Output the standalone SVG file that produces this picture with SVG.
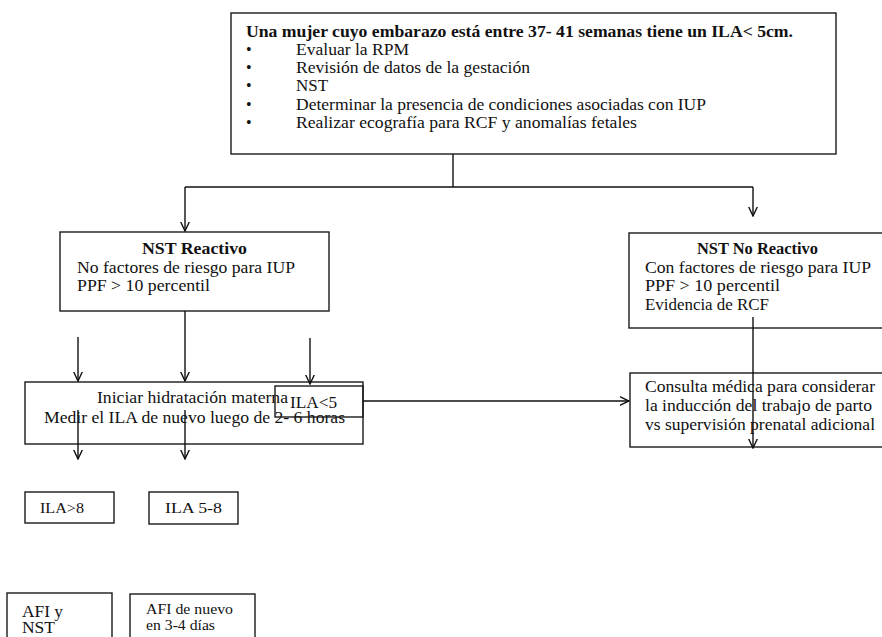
<svg xmlns="http://www.w3.org/2000/svg" width="882" height="637" viewBox="0 0 882 637">
<defs>
<style>
.box{fill:#fff;stroke:#1a1a1a;stroke-width:1.4}
.t{font-family:"Liberation Serif","Times New Roman",serif;font-size:16px;fill:#111}
.b{font-weight:bold}
.s{font-size:15px}
.c{stroke:#111;stroke-width:1.4;fill:none}
</style>
<marker id="ah" viewBox="0 0 10 10" refX="9.5" refY="5" markerWidth="10" markerHeight="10" markerUnits="userSpaceOnUse" orient="auto">
<path d="M0,0.5 L9.5,5 L0,9.5" fill="none" stroke="#111" stroke-width="1.4"/>
</marker>
</defs>
<rect width="882" height="637" fill="#fff"/>

<g id="top">
<rect class="box" x="231" y="13" width="605" height="141"/>
<text class="t b" x="246" y="37" font-size="15" textLength="547" lengthAdjust="spacingAndGlyphs">Una mujer cuyo embarazo está entre 37- 41 semanas tiene un ILA&lt; 5cm.</text>
<text class="t" x="246" y="55">•</text>
<text class="t" x="296" y="55" textLength="113" lengthAdjust="spacingAndGlyphs">Evaluar la RPM</text>
<text class="t" x="246" y="73">•</text>
<text class="t" x="296" y="73" textLength="234" lengthAdjust="spacingAndGlyphs">Revisión de datos de la gestación</text>
<text class="t" x="246" y="91">•</text>
<text class="t" x="296" y="91" textLength="32" lengthAdjust="spacingAndGlyphs">NST</text>
<text class="t" x="246" y="110">•</text>
<text class="t" x="296" y="110" textLength="410" lengthAdjust="spacingAndGlyphs">Determinar la presencia de condiciones asociadas con IUP</text>
<text class="t" x="246" y="128">•</text>
<text class="t" x="296" y="128" textLength="341" lengthAdjust="spacingAndGlyphs">Realizar ecografía para RCF y anomalías fetales</text>
</g>

<g id="nst-reactivo">
<rect class="box" x="60" y="232" width="269" height="79"/>
<text class="t b" x="142" y="254" textLength="105" lengthAdjust="spacingAndGlyphs">NST Reactivo</text>
<text class="t" x="77" y="273" textLength="218" lengthAdjust="spacingAndGlyphs">No factores de riesgo para IUP</text>
<text class="t" x="77" y="291" textLength="133" lengthAdjust="spacingAndGlyphs">PPF &gt; 10 percentil</text>
</g>

<g id="nst-no-reactivo">
<rect class="box" x="629" y="233" width="262" height="95"/>
<text class="t b" x="697" y="254" textLength="121" lengthAdjust="spacingAndGlyphs">NST No Reactivo</text>
<text class="t" x="645" y="273" textLength="226" lengthAdjust="spacingAndGlyphs">Con factores de riesgo para IUP</text>
<text class="t" x="645" y="291" textLength="135" lengthAdjust="spacingAndGlyphs">PPF &gt; 10 percentil</text>
<text class="t" x="645" y="310" textLength="124" lengthAdjust="spacingAndGlyphs">Evidencia de RCF</text>
</g>

<g id="hidratacion">
<rect class="box" x="25" y="382" width="338" height="62"/>
<text class="t" x="97" y="403" textLength="191" lengthAdjust="spacingAndGlyphs">Iniciar hidratación materna</text>
<text class="t" x="44" y="423" textLength="301" lengthAdjust="spacingAndGlyphs">Medir el ILA de nuevo luego de 2- 6 horas</text>
</g>

<g id="ila-menor-5">
<rect x="275" y="386" width="88" height="31" fill="none" stroke="#1a1a1a" stroke-width="1.4"/>
<text class="t" x="290" y="408" textLength="47" lengthAdjust="spacingAndGlyphs">ILA&lt;5</text>
</g>

<g id="consulta">
<rect class="box" x="630" y="373" width="261" height="74"/>
<text class="t" x="645" y="392" textLength="230" lengthAdjust="spacingAndGlyphs">Consulta médica para considerar</text>
<text class="t" x="645" y="411" textLength="227" lengthAdjust="spacingAndGlyphs">la inducción del trabajo de parto</text>
<text class="t" x="645" y="430" textLength="230" lengthAdjust="spacingAndGlyphs">vs supervisión prenatal adicional</text>
</g>

<g id="ila-mayor-8">
<rect class="box" x="25" y="492" width="89" height="31"/>
<text class="t s" x="40" y="513" textLength="44" lengthAdjust="spacingAndGlyphs">ILA&gt;8</text>
</g>

<g id="ila-5-8">
<rect class="box" x="149" y="492" width="89" height="32"/>
<text class="t s" x="165" y="513" textLength="57" lengthAdjust="spacingAndGlyphs">ILA 5-8</text>
</g>

<g id="afi-nst">
<rect class="box" x="7" y="593" width="105" height="60"/>
<text class="t" x="22" y="617" textLength="41" lengthAdjust="spacingAndGlyphs">AFI y</text>
<text class="t" x="22" y="633" textLength="33" lengthAdjust="spacingAndGlyphs">NST</text>
</g>

<g id="afi-nuevo">
<rect class="box" x="130" y="594" width="125" height="60"/>
<text class="t s" x="146" y="614" textLength="87" lengthAdjust="spacingAndGlyphs">AFI de nuevo</text>
<text class="t s" x="146" y="630" textLength="69" lengthAdjust="spacingAndGlyphs">en 3-4 días</text>
</g>

<g id="connectors">
<path class="c" d="M453,154 V187"/>
<path class="c" d="M185,187 H753"/>
<path class="c" d="M185,187 V231" marker-end="url(#ah)"/>
<path class="c" d="M753,187 V216" marker-end="url(#ah)"/>
<path class="c" d="M185,311 V381" marker-end="url(#ah)"/>
<path class="c" d="M78,337 V381" marker-end="url(#ah)"/>
<path class="c" d="M310,338 V384" marker-end="url(#ah)"/>
<path class="c" d="M78,410 V459" marker-end="url(#ah)"/>
<path class="c" d="M185,410 V459" marker-end="url(#ah)"/>
<path class="c" d="M363,401 H629" marker-end="url(#ah)"/>
<path class="c" d="M753,317 V448" marker-end="url(#ah)"/>
</g>
</svg>
